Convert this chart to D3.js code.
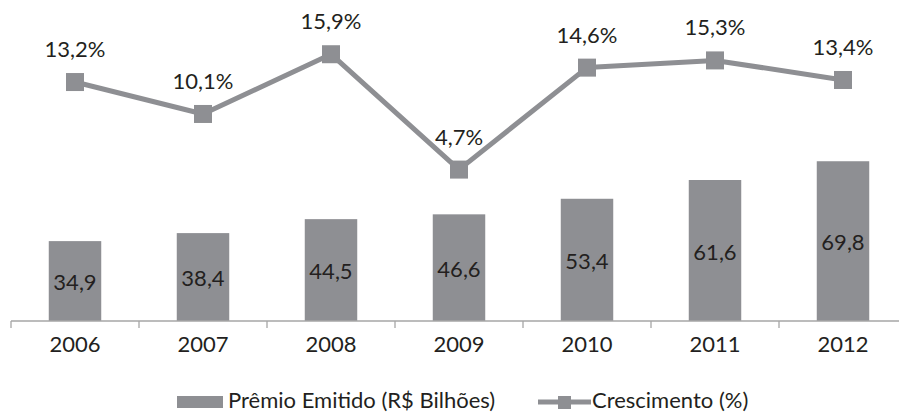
<!DOCTYPE html>
<meta charset="utf-8">
<style>
body { margin: 0; background: #fff; }
svg { display: block; font-family: Lato, "Open Sans", sans-serif; }
text { fill: #231f20; }
</style>
<body>
<script src="https://d3js.org/d3.v7.min.js"></script>
<script>

// chart data
var years = ["2006", "2007", "2008", "2009", "2010", "2011", "2012"];
var premio = [34.9, 38.4, 44.5, 46.6, 53.4, 61.6, 69.8];
var crescimento = [13.2, 10.1, 15.9, 4.7, 14.6, 15.3, 13.4];
var premioLabels = ["34,9", "38,4", "44,5", "46,6", "53,4", "61,6", "69,8"];
var crescLabels = ["13,2%", "10,1%", "15,9%", "4,7%", "14,6%", "15,3%", "13,4%"];
var legendNames = ["Prêmio Emitido (R$ Bilhões)", "Crescimento (%)"];

var width = 899, height = 412;
var grey = "#8e8f93";
var fontSize = 22;

var svg = d3.select("body").append("svg")
    .attr("width", width)
    .attr("height", height);

// scales
var x = d3.scaleBand()
    .domain(years)
    .range([11, 907])
    .padding(0);

var yBar = d3.scaleLinear()
    .domain([0, 135])
    .range([321, 12]);

var yLine = d3.scaleLinear()
    .domain([-10, 20])
    .range([321, 12]);

var barW = x.bandwidth() * 0.41;

// bars
svg.selectAll(".bar")
    .data(premio)
  .enter().append("rect")
    .attr("class", "bar")
    .attr("x", function(d, i) { return x(years[i]) + (x.bandwidth() - barW) / 2; })
    .attr("width", barW)
    .attr("y", function(d) { return yBar(d); })
    .attr("height", function(d) { return yBar(0) - yBar(d); })
    .style("fill", grey);

// bar labels, centred in the bar
svg.selectAll(".barlabel")
    .data(premio)
  .enter().append("text")
    .attr("class", "barlabel")
    .attr("x", function(d, i) { return x(years[i]) + x.bandwidth() / 2; })
    .attr("y", function(d) { return (yBar(d) + yBar(0)) / 2 + 9; })
    .attr("text-anchor", "middle")
    .style("font-size", fontSize + "px")
    .text(function(d, i) { return premioLabels[i]; });

// x axis
var axis = svg.append("g")
    .attr("transform", "translate(0," + yBar(0) + ")");

axis.append("line")
    .attr("x1", 11).attr("x2", 907)
    .style("stroke", "#a6a6a6")
    .style("stroke-width", 1.3);

var ticks = years.map(function(d) { return x(d); }).concat([x.range()[1]]);
axis.selectAll(".tick")
    .data(ticks)
  .enter().append("line")
    .attr("x1", function(d) { return d; })
    .attr("x2", function(d) { return d; })
    .attr("y1", 0).attr("y2", 7)
    .style("stroke", "#a6a6a6")
    .style("stroke-width", 1.3);

axis.selectAll(".year")
    .data(years)
  .enter().append("text")
    .attr("x", function(d) { return x(d) + x.bandwidth() / 2; })
    .attr("y", 31)
    .attr("text-anchor", "middle")
    .style("font-size", fontSize + "px")
    .text(function(d) { return d; });

// growth line
var line = d3.line()
    .x(function(d, i) { return x(years[i]) + x.bandwidth() / 2; })
    .y(function(d) { return yLine(d); });

svg.append("path")
    .datum(crescimento)
    .attr("d", line)
    .style("fill", "none")
    .style("stroke", grey)
    .style("stroke-width", 5)
    .style("stroke-linejoin", "round");

var mk = 18;
svg.selectAll(".marker")
    .data(crescimento)
  .enter().append("rect")
    .attr("class", "marker")
    .attr("x", function(d, i) { return x(years[i]) + x.bandwidth() / 2 - mk / 2; })
    .attr("y", function(d) { return yLine(d) - mk / 2; })
    .attr("width", mk)
    .attr("height", mk)
    .style("fill", grey);

svg.selectAll(".linelabel")
    .data(crescimento)
  .enter().append("text")
    .attr("class", "linelabel")
    .attr("x", function(d, i) { return x(years[i]) + x.bandwidth() / 2; })
    .attr("y", function(d) { return yLine(d) - 25; })
    .attr("text-anchor", "middle")
    .style("font-size", fontSize + "px")
    .text(function(d, i) { return crescLabels[i]; });

// legend
var legend = svg.append("g");

legend.append("rect")
    .attr("x", 177).attr("y", 396)
    .attr("width", 46).attr("height", 12)
    .style("fill", grey);

legend.append("text")
    .attr("x", 228).attr("y", 408)
    .style("font-size", fontSize + "px")
    .text(legendNames[0]);

legend.append("line")
    .attr("x1", 538).attr("x2", 591)
    .attr("y1", 402).attr("y2", 402)
    .style("stroke", grey)
    .style("stroke-width", 5);

legend.append("rect")
    .attr("x", 558).attr("y", 396)
    .attr("width", 13).attr("height", 13)
    .style("fill", grey);

legend.append("text")
    .attr("x", 592).attr("y", 408)
    .style("font-size", fontSize + "px")
    .text(legendNames[1]);

</script>
</body>
